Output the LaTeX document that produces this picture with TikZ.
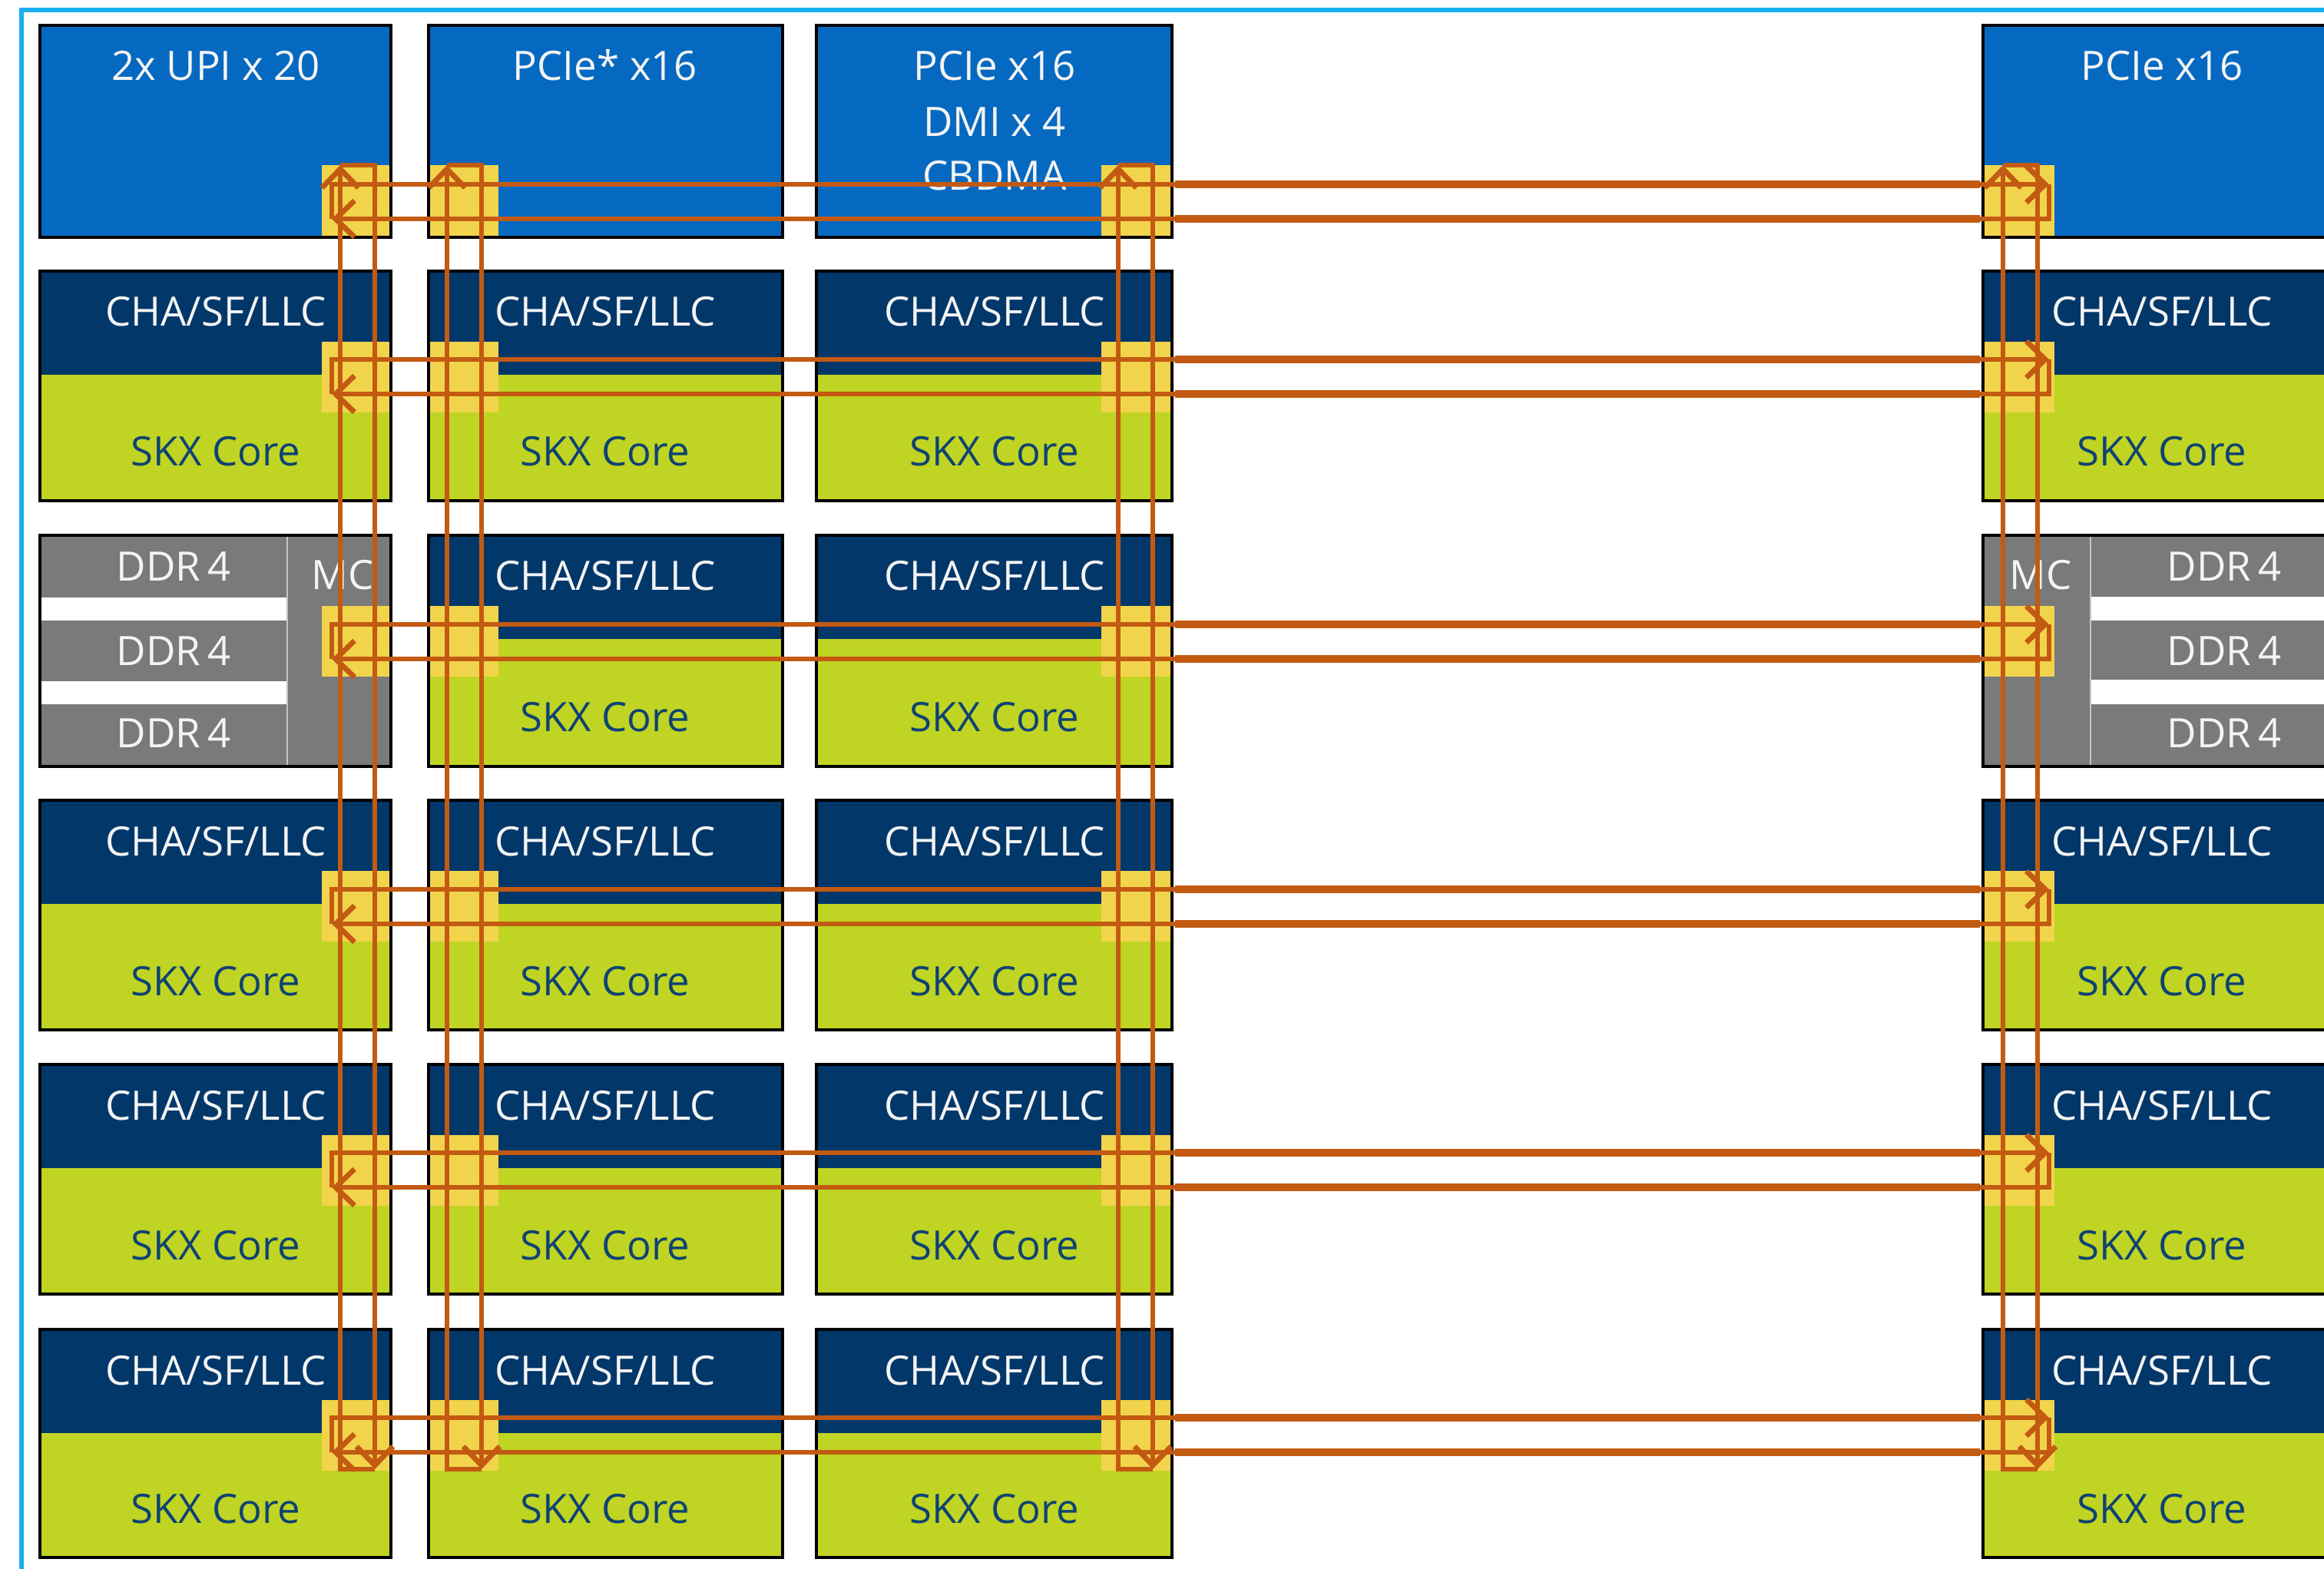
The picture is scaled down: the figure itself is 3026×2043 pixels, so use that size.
\documentclass[tikz,border=0pt]{standalone}
\usepackage{fontspec}
\setmainfont{Open Sans}
\usetikzlibrary{arrows.meta}
\definecolor{frameblue}{HTML}{1AAFEF}
\definecolor{ioblue}{HTML}{0569C1}
\definecolor{navy}{HTML}{02376A}
\definecolor{lime}{HTML}{C0D423}
\definecolor{stop}{HTML}{F2D44C}
\definecolor{mesh}{HTML}{C35A12}
\definecolor{ddrgray}{HTML}{7A7A7A}
\definecolor{coretext}{HTML}{0E4373}
\definecolor{lbl}{HTML}{F4F4F4}
\definecolor{sepgray}{HTML}{C4C4C4}
\begin{document}
\begin{tikzpicture}[x=0.01cm,y=-0.01cm,
  frame/.style={draw=frameblue, line width=1.7pt},
  boxborder/.style={draw=black, line width=1.1pt},
  sepline/.style={draw=sepgray, line width=0.8pt},
  lab/.style={text=lbl, font=\fontsize{15}{18}\selectfont, anchor=base, inner sep=0pt},
  corelab/.style={lab, text=coretext},
  meshline/.style={draw=mesh, line width=1.95pt},
  meshwide/.style={draw=mesh, line width=2.85pt},
  meshtip/.style={-{Straight Barb[length=7pt,width=13.5pt,sharp]}}
]
\useasboundingbox (0,0) rectangle (3026,2043);
\clip (0,0) rectangle (3026,2043);
\fill[white] (0,0) rectangle (3026,2043);
\draw[frame] (28,2200) -- (28,13) -- (3200,13);

% top row (I/O)
\foreach \ci/\L/\R/\Y in {1/52/509/419,2/558/1019/558,3/1063/1526/1434,4/2582/3048/2584}{
  \fill[ioblue] (\L,33) rectangle (\R,309);
  \fill[stop] (\Y,215) rectangle ({\Y+91},307);
  \draw[boxborder] (\L,33) rectangle (\R,309);
}
\node[lab] (upi) at (281,105) {2x UPI x 20};
\node[lab] (pcie1) at (788,105) {PCIe* x16};
\node[lab] (pcie2) at (1295,105) {PCIe x16};
\node[lab] (dmi) at (1295,178) {DMI x 4};
\node[lab] (cbdma) at (1295,248) {CBDMA};
\node[lab] (pcie3) at (2815,105) {PCIe x16};

% core tiles
\foreach \ri/\T/\B/\S in {2/353/652/445,3/697/998/789,4/1042/1341/1134,5/1386/1685/1478,6/1731/2028/1823}{
  \foreach \ci/\L/\R/\X/\Y in {1/52/509/281/419,2/558/1019/788/558,3/1063/1526/1295/1434,4/2582/3048/2815/2584}{
    \pgfmathtruncatemacro{\isddr}{(\ri==3)*((\ci==1)+(\ci==4))}
    \ifnum\isddr=0
      \fill[navy] (\L,\T) rectangle (\R,{\T+135});
      \fill[lime] (\L,{\T+135}) rectangle (\R,\B);
      \fill[stop] (\Y,\S) rectangle ({\Y+91},{\S+92});
      \draw[boxborder] (\L,\T) rectangle (\R,\B);
      \node[lab] (cha\ri\ci) at (\X,{\T+72}) {CHA/SF/LLC};
      \node[corelab] (core\ri\ci) at (\X,{\B-45}) {SKX Core};
    \fi
  }
}

% memory controllers
\fill[ddrgray] (52,697) rectangle (509,998);
\fill[white] (54,778) rectangle (373,808);
\fill[white] (54,887) rectangle (373,917);
\draw[sepline] (374,699) -- (374,996);
\fill[stop] (419,789) rectangle (510,881);
\draw[boxborder] (52,697) rectangle (509,998);
\node[lab] (ddrla) at (226,757) {DDR\,4};
\node[lab] (ddrlb) at (226,867) {DDR\,4};
\node[lab] (ddrlc) at (226,974) {DDR\,4};
\node[lab] (mcl) at (446,768) {MC};

\fill[ddrgray] (2582,697) rectangle (3048,998);
\fill[white] (2723,777) rectangle (3048,808);
\fill[white] (2723,885) rectangle (3048,917);
\draw[sepline] (2722,699) -- (2722,996);
\fill[stop] (2584,789) rectangle (2675,881);
\draw[boxborder] (2582,697) rectangle (3048,998);
\node[lab] (ddrra) at (2896,757) {DDR\,4};
\node[lab] (ddrrb) at (2896,867) {DDR\,4};
\node[lab] (ddrrc) at (2896,974) {DDR\,4};
\node[lab] (mcr) at (2657,768) {MC};

% mesh: horizontal rings
\foreach \ri/\yt in {1/240,2/468,3/813,4/1158,5/1501,6/1846}{
  \coordinate (Wt\ri) at (432,\yt);
  \coordinate (Et\ri) at (2668,\yt);
  \coordinate (Wb\ri) at (432,{\yt+45});
  \coordinate (Eb\ri) at (2668,{\yt+45});
  \coordinate (Gt\ri) at (1530,\yt);
  \coordinate (Ht\ri) at (2578,\yt);
  \coordinate (Gb\ri) at (1530,{\yt+45});
  \coordinate (Hb\ri) at (2578,{\yt+45});
  \draw[meshline, meshtip] (Wb\ri) -- (Wt\ri) -- (Et\ri);
  \draw[meshline, meshtip] (Et\ri) -- (Eb\ri) -- (Wb\ri);
  \draw[meshwide] (Gt\ri) -- (Ht\ri);
  \draw[meshwide] (Gb\ri) -- (Hb\ri);
}
% mesh: vertical rings
\foreach \ci/\xl in {1/443,2/582,3/1456,4/2608}{
  \coordinate (Nl\ci) at (\xl,215);
  \coordinate (Nr\ci) at ({\xl+45},215);
  \coordinate (Sl\ci) at (\xl,1913);
  \coordinate (Sr\ci) at ({\xl+45},1913);
  \draw[meshline, meshtip] (Sr\ci) -- (Sl\ci) -- (Nl\ci);
  \draw[meshline, meshtip] (Nl\ci) -- (Nr\ci) -- (Sr\ci);
}
\end{tikzpicture}
\end{document}
